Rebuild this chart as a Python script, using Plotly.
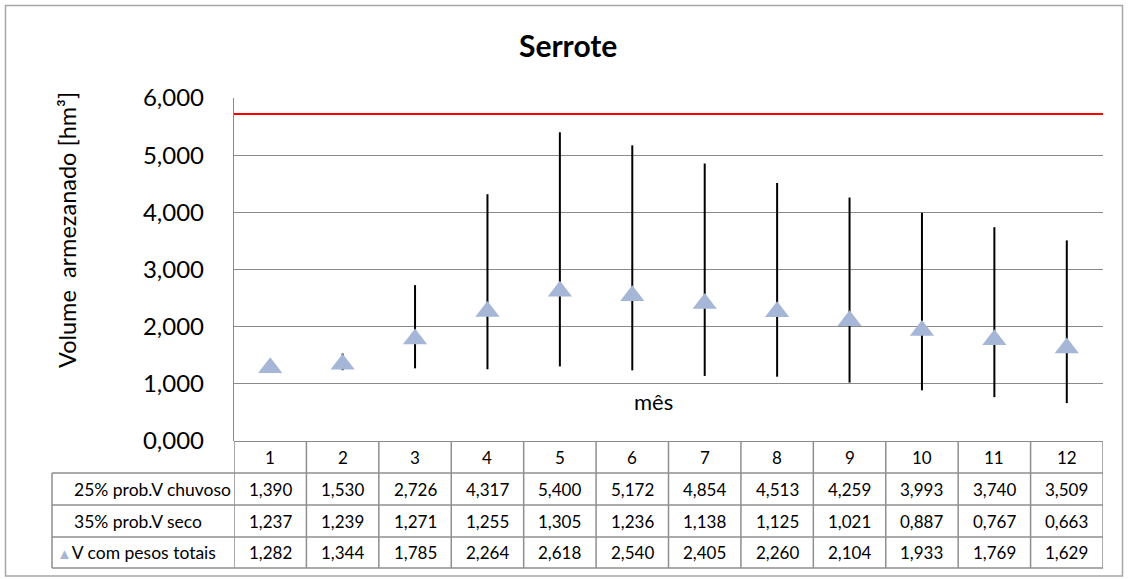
import plotly.graph_objects as go

# ---------------- data ----------------
meses = list(range(1, 13))
mes_labels = [str(m) for m in meses]
chuvoso = [1.390, 1.530, 2.726, 4.317, 5.400, 5.172, 4.854, 4.513, 4.259, 3.993, 3.740, 3.509]
seco = [1.237, 1.239, 1.271, 1.255, 1.305, 1.236, 1.138, 1.125, 1.021, 0.887, 0.767, 0.663]
pesos = [1.282, 1.344, 1.785, 2.264, 2.618, 2.540, 2.405, 2.260, 2.104, 1.933, 1.769, 1.629]
capacidade = 5.72
row_labels = ["25% prob.V chuvoso", "35% prob.V seco", "V com pesos totais"]
titulo = "Serrote"
y_titulo = "Volume\u00a0 armezanado [hm³]"
x_titulo = "mês"

# ---------------- layout helpers ----------------
W, H = 1128, 579
FONT = "Lato"
GRID = "#8A8A8A"
TBL = "#8F8F8F"
MARK = "#A5B6D6"


def px(x):
    return x / W


def py(y):
    return 1 - y / H


PL, PR, PT, PB = 234, 1103, 98, 441
row_edges = [441, 473, 505, 537, 568]
TBL_LEFT = 52


def fmt(v):
    return f"{v:.3f}".replace(".", ",")


fig = go.Figure()

# capacity line
fig.add_trace(go.Scatter(
    x=[0.5, 12.5], y=[capacidade, capacidade], mode="lines",
    line=dict(color="#FF0000", width=2), hoverinfo="skip", showlegend=False,
))

# range bars + triangles
fig.add_trace(go.Scatter(
    x=meses, y=pesos, mode="markers",
    marker=dict(symbol="triangle-up", size=21, color=MARK, line=dict(width=0)),
    error_y=dict(type="data", symmetric=False,
                 array=[c - p for c, p in zip(chuvoso, pesos)],
                 arrayminus=[p - s for p, s in zip(pesos, seco)],
                 color="black", thickness=2, width=0),
    showlegend=False,
))

annotations = []
# title
annotations.append(dict(text=f"<b>{titulo}</b>", x=px(568), y=py(45), xref="paper", yref="paper",
                        showarrow=False, font=dict(family=FONT, size=30, color="black"),
                        xanchor="center", yanchor="middle"))
# y title
annotations.append(dict(text=y_titulo, x=px(67), y=py(230), xref="paper", yref="paper",
                        showarrow=False, textangle=-90, font=dict(family=FONT, size=23.5, color="black"),
                        xanchor="center", yanchor="middle"))
# x title (inside plot)
annotations.append(dict(text=x_titulo, x=px(653), y=py(401), xref="paper", yref="paper",
                        showarrow=False, font=dict(family=FONT, size=22, color="black"),
                        xanchor="center", yanchor="middle"))

# table text
rows = [chuvoso, seco, pesos]
centers = [(row_edges[i] + row_edges[i + 1]) / 2 for i in range(4)]
for m, lab in zip(meses, mes_labels):
    annotations.append(dict(text=lab, x=m, y=py(centers[0]), xref="x", yref="paper",
                            showarrow=False, font=dict(family=FONT, size=17, color="black"),
                            xanchor="center", yanchor="middle"))
for r, vals in enumerate(rows):
    for m, v in zip(meses, vals):
        annotations.append(dict(text=fmt(v), x=m, y=py(centers[r + 1]), xref="x", yref="paper",
                                showarrow=False, font=dict(family=FONT, size=17, color="black"),
                                xanchor="center", yanchor="middle"))
for r, lab in enumerate(row_labels):
    if r == 2:
        txt = f"<span style='color:{MARK};font-size:15px'>▲</span>{lab}"
        xl = 55
    else:
        txt = lab
        xl = 72
    annotations.append(dict(text=txt, x=px(xl), y=py(centers[r + 1]), xref="paper", yref="paper",
                            showarrow=False, font=dict(family=FONT, size=17.5, color="black"),
                            xanchor="left", yanchor="middle"))

shapes = []
# outer border
shapes.append(dict(type="rect", xref="paper", yref="paper", x0=px(5.5), x1=px(1122.5), y0=py(5.5), y1=py(576),
                   line=dict(color="#A6A6A6", width=1.5), fillcolor="rgba(0,0,0,0)", layer="below"))
# table vertical lines
for k in range(13):
    shapes.append(dict(type="line", xref="x", yref="paper", x0=0.5 + k, x1=0.5 + k,
                       y0=py(441), y1=py(568), line=dict(color=TBL, width=1.5)))
shapes.append(dict(type="line", xref="paper", yref="paper", x0=px(TBL_LEFT), x1=px(TBL_LEFT),
                   y0=py(473), y1=py(568), line=dict(color=TBL, width=1.5)))
# table horizontal lines
for yy in row_edges[1:]:
    shapes.append(dict(type="line", xref="paper", yref="paper", x0=px(TBL_LEFT), x1=px(PR),
                       y0=py(yy), y1=py(yy), line=dict(color=TBL, width=1.5)))

fig.update_layout(
    width=W, height=H,
    margin=dict(l=0, r=0, t=0, b=0, autoexpand=False),
    paper_bgcolor="white", plot_bgcolor="white",
    separators=",.",
    showlegend=False,
    font=dict(family=FONT, color="black"),
    xaxis=dict(domain=[px(PL), px(PR)], range=[0.5, 12.5], showgrid=False, zeroline=False,
               showticklabels=False, showline=False, fixedrange=True, automargin=False),
    yaxis=dict(domain=[py(PB), py(PT)], range=[0, 6], dtick=1, tickformat=".3f",
               showgrid=True, gridcolor=GRID, gridwidth=1.3,
               zeroline=True, zerolinecolor=GRID, zerolinewidth=1.3,
               showline=True, linecolor=GRID, linewidth=1.3,
               ticks="", ticklabelstandoff=24, automargin=False,
               tickfont=dict(family=FONT, size=24, color="black"), fixedrange=True),
    annotations=annotations,
    shapes=shapes,
)

fig.write_html("out.html",
               config={"displayModeBar": False},
               post_script="document.body.style.margin='0';document.body.style.overflow='hidden';")
